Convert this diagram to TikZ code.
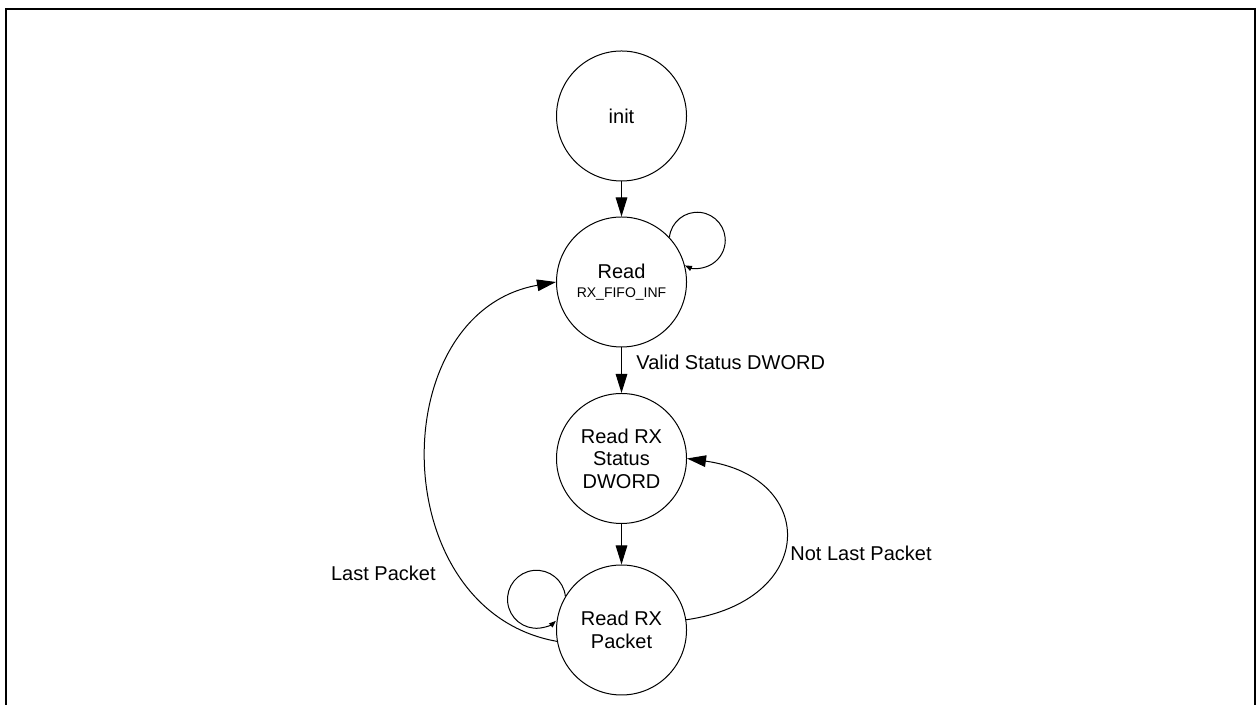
\documentclass[tikz,border=0pt]{standalone}
\usepackage{fontspec}
\setmainfont{Liberation Sans}
\usetikzlibrary{arrows.meta}

\begin{document}
\begin{tikzpicture}[x=0.5pt,y=0.5pt,
    state/.style={circle,draw,line width=0.5pt,minimum size=65pt,inner sep=0pt,align=center,font=\fontsize{10}{11.2}\selectfont},
    trans/.style={line width=0.5pt,-{Triangle[length=9.5pt,width=5.8pt]}},
    selftrans/.style={line width=0.5pt,-{Triangle[length=3.5pt,width=2.6pt]}},
    lbl/.style={inner sep=0pt,font=\fontsize{10}{12}\selectfont}]
  \useasboundingbox (0,0) rectangle (1256,705);
  \draw[line width=1pt] (6,0) -- (6,696) -- (1255,696) -- (1255,0);
  \node[state] (init) at (621.5,589) {init};
  \node[state] (read) at (621.5,423) {Read\\[-1.5pt]{\fontsize{7}{8}\selectfont RX\_FIFO\_INF}};
  \node[state] (status) at (621.5,246.5) {Read RX\\Status\\DWORD};
  \node[state] (packet) at (621.5,75) {Read RX\\Packet};
  \draw[trans] (init) -- (read);
  \draw[trans] (read) -- (status);
  \draw[trans] (status) -- (packet);
  \draw[selftrans] (read.43) arc[start angle=174,end angle=-116,radius=28];
  \draw[selftrans] (packet.149) arc[start angle=6,end angle=312,radius=29];
  \draw[trans] (packet.190) to[out=170,in=190,looseness=1.25] (read.west);
  \draw[trans] (packet.9) to[out=8,in=-8,looseness=2.1] (status.east);
  \node[lbl,anchor=west] (valid) at (636,342.3) {Valid Status DWORD};
  \node[lbl,anchor=west] (notlast) at (790,152) {Not Last Packet};
  \node[lbl,anchor=east] (last) at (436,131.7) {Last Packet};
\end{tikzpicture}
\end{document}
